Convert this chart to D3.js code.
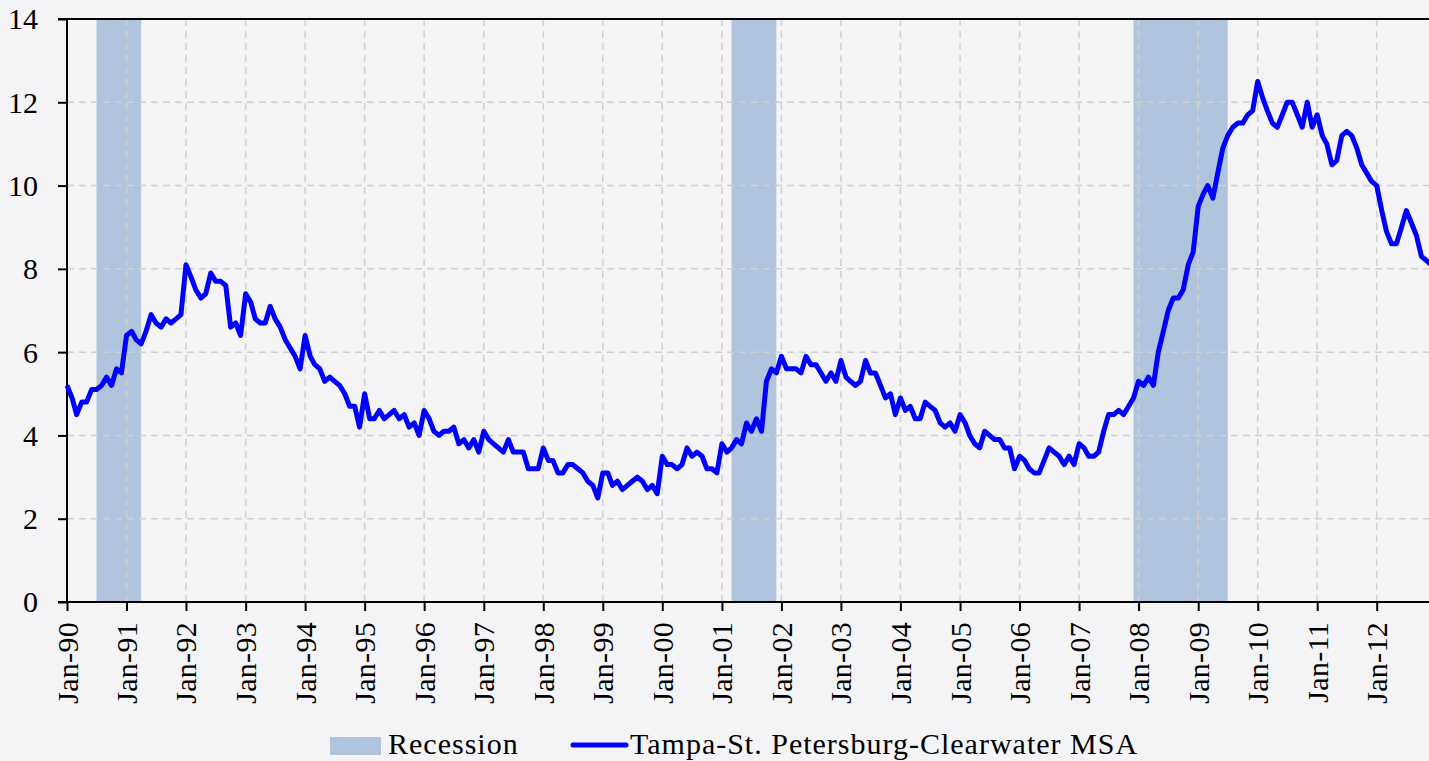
<!DOCTYPE html>
<html>
<head>
<meta charset="utf-8">
<script src="https://cdn.jsdelivr.net/npm/d3@7"></script>
<style>
  html, body { margin: 0; padding: 0; background: #f4f4f7; overflow: hidden; }
  svg { display: block; font-family: "Palatino Linotype", "Book Antiqua", Palatino, "Liberation Serif", serif; }
</style>
</head>
<body>
<div id="chart"></div>
<script>
// monthly unemployment rate, Jan-90 .. Dec-12
const startMonth = '1990-01';
const unemploymentRate = [
  5.2, 4.9, 4.5, 4.8, 4.8, 5.1, 5.1, 5.2, 5.4, 5.2, 5.6, 5.5,
  6.4, 6.5, 6.3, 6.2, 6.5, 6.9, 6.7, 6.6, 6.8, 6.7, 6.8, 6.9,
  8.1, 7.8, 7.5, 7.3, 7.4, 7.9, 7.7, 7.7, 7.6, 6.6, 6.7, 6.4,
  7.4, 7.2, 6.8, 6.7, 6.7, 7.1, 6.8, 6.6, 6.3, 6.1, 5.9, 5.6,
  6.4, 5.9, 5.7, 5.6, 5.3, 5.4, 5.3, 5.2, 5.0, 4.7, 4.7, 4.2,
  5.0, 4.4, 4.4, 4.6, 4.4, 4.5, 4.6, 4.4, 4.5, 4.2, 4.3, 4.0,
  4.6, 4.4, 4.1, 4.0, 4.1, 4.1, 4.2, 3.8, 3.9, 3.7, 3.9, 3.6,
  4.1, 3.9, 3.8, 3.7, 3.6, 3.9, 3.6, 3.6, 3.6, 3.2, 3.2, 3.2,
  3.7, 3.4, 3.4, 3.1, 3.1, 3.3, 3.3, 3.2, 3.1, 2.9, 2.8, 2.5,
  3.1, 3.1, 2.8, 2.9, 2.7, 2.8, 2.9, 3.0, 2.9, 2.7, 2.8, 2.6,
  3.5, 3.3, 3.3, 3.2, 3.3, 3.7, 3.5, 3.6, 3.5, 3.2, 3.2, 3.1,
  3.8, 3.6, 3.7, 3.9, 3.8, 4.3, 4.1, 4.4, 4.1, 5.3, 5.6, 5.5,
  5.9, 5.6, 5.6, 5.6, 5.5, 5.9, 5.7, 5.7, 5.5, 5.3, 5.5, 5.3,
  5.8, 5.4, 5.3, 5.2, 5.3, 5.8, 5.5, 5.5, 5.2, 4.9, 5.0, 4.5,
  4.9, 4.6, 4.7, 4.4, 4.4, 4.8, 4.7, 4.6, 4.3, 4.2, 4.3, 4.1,
  4.5, 4.3, 4.0, 3.8, 3.7, 4.1, 4.0, 3.9, 3.9, 3.7, 3.7, 3.2,
  3.5, 3.4, 3.2, 3.1, 3.1, 3.4, 3.7, 3.6, 3.5, 3.3, 3.5, 3.3,
  3.8, 3.7, 3.5, 3.5, 3.6, 4.1, 4.5, 4.5, 4.6, 4.5, 4.7, 4.9,
  5.3, 5.2, 5.4, 5.2, 6.0, 6.5, 7.0, 7.3, 7.3, 7.5, 8.1, 8.4,
  9.5, 9.8, 10.0, 9.7, 10.3, 10.9, 11.2, 11.4, 11.5, 11.5, 11.7, 11.8,
  12.5, 12.1, 11.8, 11.5, 11.4, 11.7, 12.0, 12.0, 11.7, 11.4, 12.0, 11.4,
  11.7, 11.2, 11.0, 10.5, 10.6, 11.2, 11.3, 11.2, 10.9, 10.5, 10.3, 10.1,
  10.0, 9.4, 8.9, 8.6, 8.6, 9.0, 9.4, 9.1, 8.8, 8.3, 8.2, 8.1
];

const tickLabels = ['Jan-90', 'Jan-91', 'Jan-92', 'Jan-93', 'Jan-94', 'Jan-95', 'Jan-96', 'Jan-97',
  'Jan-98', 'Jan-99', 'Jan-00', 'Jan-01', 'Jan-02', 'Jan-03', 'Jan-04', 'Jan-05', 'Jan-06',
  'Jan-07', 'Jan-08', 'Jan-09', 'Jan-10', 'Jan-11', 'Jan-12'];
const yTicks = [0, 2, 4, 6, 8, 10, 12, 14];

// recession periods (first and last month)
const recessionStart = ['1990-07', '2001-03', '2007-12'];
const recessionEnd = ['1991-03', '2001-11', '2009-06'];

const seriesName = 'Tampa-St. Petersburg-Clearwater MSA';

const width = 1429;
const height = 761;
const margin = { top: 19, left: 67, bottom: 159 };
const plotBottom = height - margin.bottom;

const parseMonth = d3.timeParse('%Y-%m');
const parseLabel = d3.timeParse('%b-%y');
const start = parseMonth(startMonth);
const data = unemploymentRate.map((v, i) => ({ date: d3.timeMonth.offset(start, i), value: v }));

const svg = d3.select('#chart')
  .append('svg')
  .attr('width', width)
  .attr('height', height);

svg.append('rect')
  .attr('width', width)
  .attr('height', height)
  .attr('fill', '#f4f4f7');

// Scales
const x = d3.scaleTime()
  .domain([parseLabel('Jan-90'), parseLabel('Jan-12')])
  .range([margin.left, 1376.7]);

const y = d3.scaleLinear()
  .domain([0, 14])
  .range([plotBottom, margin.top]);

// Recession bands
svg.selectAll('.recession')
  .data(recessionStart.map((s, i) => ({ s: parseMonth(s), e: d3.timeMonth.offset(parseMonth(recessionEnd[i]), 1) })))
  .enter()
  .append('rect')
  .attr('class', 'recession')
  .attr('x', d => x(d.s))
  .attr('width', d => x(d.e) - x(d.s))
  .attr('y', y(14))
  .attr('height', y(0) - y(14))
  .attr('fill', '#b0c4de');

// Grid lines
svg.append('g')
  .selectAll('line')
  .data(yTicks.slice(1, -1))
  .enter()
  .append('line')
  .attr('x1', margin.left)
  .attr('x2', width)
  .attr('y1', d => y(d))
  .attr('y2', d => y(d))
  .attr('stroke', '#d0d0d0')
  .attr('stroke-width', 1.5)
  .attr('stroke-dasharray', '7,5');

svg.append('g')
  .selectAll('line')
  .data(tickLabels.slice(1).map(parseLabel))
  .enter()
  .append('line')
  .attr('x1', d => x(d))
  .attr('x2', d => x(d))
  .attr('y1', y(14))
  .attr('y2', y(0))
  .attr('stroke', '#d0d0d0')
  .attr('stroke-width', 1.5)
  .attr('stroke-dasharray', '7,5');

// Y-axis
const yAxis = svg.append('g')
  .attr('transform', `translate(${margin.left},0)`)
  .call(d3.axisLeft(y).tickValues(yTicks).tickSize(9).tickPadding(20).tickSizeOuter(0))
  .attr('font-family', null)
  .attr('font-size', 30);
yAxis.select('.domain').remove();
yAxis.selectAll('line').attr('stroke', '#000').attr('stroke-width', 2);
yAxis.selectAll('text')
  .attr('fill', '#000')
  .attr('dy', '0.33em');

// X-axis
const xAxis = svg.append('g')
  .attr('transform', `translate(0,${plotBottom})`)
  .call(d3.axisBottom(x)
    .tickValues(tickLabels.map(parseLabel))
    .tickFormat(d3.timeFormat('%b-%y'))
    .tickSize(9)
    .tickSizeOuter(0))
  .attr('font-family', null)
  .attr('font-size', 30);
xAxis.select('.domain').remove();
xAxis.selectAll('line').attr('stroke', '#000').attr('stroke-width', 2);
xAxis.selectAll('text')
  .attr('fill', '#000')
  .attr('transform', 'rotate(-90)')
  .attr('x', -20)
  .attr('y', 10)
  .attr('dy', 0)
  .style('letter-spacing', '0.3px')
  .style('text-anchor', 'end');

// axis lines and top border
svg.append('line')
  .attr('x1', margin.left).attr('x2', margin.left)
  .attr('y1', y(14)).attr('y2', y(0))
  .attr('stroke', '#000').attr('stroke-width', 2);
svg.append('line')
  .attr('x1', margin.left - 9).attr('x2', width)
  .attr('y1', y(0)).attr('y2', y(0))
  .attr('stroke', '#000').attr('stroke-width', 2);
svg.append('line')
  .attr('x1', margin.left - 9).attr('x2', width)
  .attr('y1', y(14)).attr('y2', y(14))
  .attr('stroke', '#000').attr('stroke-width', 2);

// Line
const line = d3.line()
  .x(d => x(d.date))
  .y(d => y(d.value));

svg.append('path')
  .datum(data)
  .attr('fill', 'none')
  .attr('stroke', '#0000ff')
  .attr('stroke-width', 5)
  .attr('stroke-linejoin', 'round')
  .attr('d', line);

// Legend
const legend = svg.append('g').attr('font-size', 30).attr('fill', '#000').style('letter-spacing', '1px');
legend.append('rect')
  .attr('x', 330).attr('y', 737)
  .attr('width', 51).attr('height', 18)
  .attr('fill', '#b0c4de');
legend.append('text')
  .attr('x', 388).attr('y', 754)
  .text('Recession');
legend.append('line')
  .attr('x1', 573).attr('x2', 626)
  .attr('y1', 745).attr('y2', 745)
  .attr('stroke', '#0000ff')
  .attr('stroke-width', 5)
  .attr('stroke-linecap', 'round');
legend.append('text')
  .attr('x', 630).attr('y', 754)
  .text(seriesName);
</script>
</body>
</html>
